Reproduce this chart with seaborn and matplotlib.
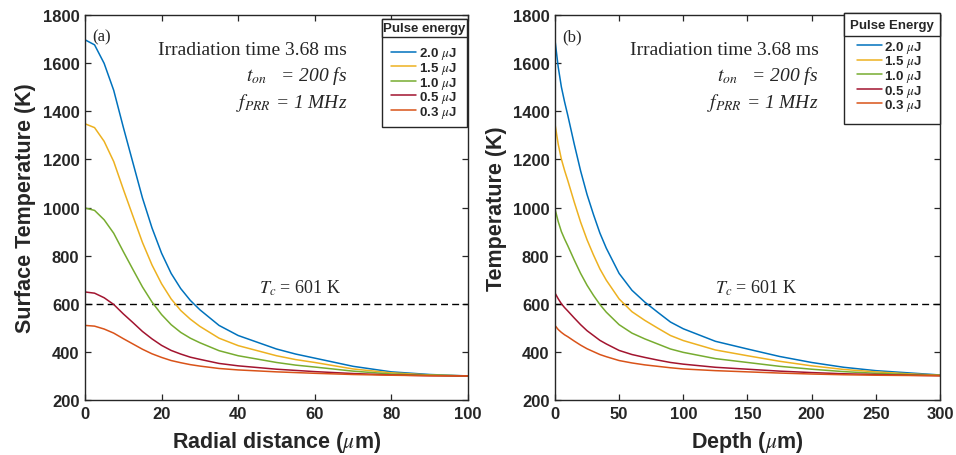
import numpy as np
import pandas as pd
import matplotlib
matplotlib.use("Agg")
import matplotlib.pyplot as plt
from matplotlib.patches import Rectangle
import seaborn as sns

# pulse energies and colours (MATLAB default order)
energy_labels = ["2.0 $\\mu$J", "1.5 $\\mu$J", "1.0 $\\mu$J", "0.5 $\\mu$J", "0.3 $\\mu$J"]
colors = ["#0072BD", "#EDB120", "#77AC30", "#A2142F", "#D95319"]
tc_value = 601

# (a) surface temperature vs radial distance
radial_um = [0, 2.5, 5, 7.5, 10, 12.5, 15, 17.5, 20, 22.5, 25, 27.5, 30,
             35, 40, 45, 50, 55, 60, 70, 80, 90, 100]
surf_2p0 = [1697, 1676, 1599, 1487, 1334, 1187, 1040, 915, 810, 726, 663, 614, 575,
            510, 468, 440, 412, 391, 374, 340, 317, 306, 300]
surf_1p5 = [1348, 1332, 1275, 1191, 1076, 965, 855, 761, 683, 620, 572, 536, 506,
            457, 426, 405, 384, 368, 356, 329, 313, 304, 300]
surf_1p0 = [998, 988, 949, 893, 817, 743, 670, 607, 555, 513, 481, 457, 438,
            405, 384, 370, 356, 345, 337, 320, 308, 303, 300]
surf_0p5 = [649, 644, 625, 597, 558, 522, 485, 454, 427, 406, 391, 378, 369,
            352, 342, 335, 328, 323, 318, 310, 304, 301, 300]
surf_0p3 = [510, 507, 495, 478, 455, 433, 411, 392, 377, 364, 355, 347, 341,
            331, 325, 321, 317, 314, 311, 306, 303, 301, 300]

# (b) temperature vs depth
depth_um = [0, 2.5, 5, 7.5, 10, 15, 20, 25, 30, 35, 40, 50, 60, 70, 80, 90, 100,
            125, 150, 175, 200, 225, 250, 275, 300]
depth_2p0 = [1697, 1585, 1501, 1439, 1383, 1264, 1152, 1054, 971, 894, 831, 726, 656,
             607, 565, 524, 496, 444, 412, 381, 356, 336, 322, 313, 304]
depth_1p5 = [1348, 1264, 1201, 1154, 1112, 1023, 939, 866, 803, 745, 698, 620, 567,
             531, 499, 468, 447, 408, 384, 361, 342, 327, 317, 309, 303]
depth_1p0 = [995, 942, 900, 869, 841, 782, 726, 677, 635, 597, 565, 513, 478,
             454, 433, 412, 398, 372, 356, 340, 328, 318, 311, 306, 302]
depth_0p5 = [645, 621, 600, 584, 570, 541, 513, 488, 468, 448, 433, 406, 389,
             377, 366, 356, 349, 336, 328, 320, 314, 309, 306, 303, 301]
depth_0p3 = [510, 493, 481, 471, 463, 445, 428, 413, 401, 389, 380, 364, 354,
             346, 340, 334, 329, 322, 317, 312, 308, 305, 303, 302, 301]

sns.set_style("ticks")
plt.rcParams["font.family"] = ["Liberation Sans", "DejaVu Sans"]
plt.rcParams["mathtext.fontset"] = "stix"

spine_col = "#262626"
tick_font = {"family": "Liberation Sans", "weight": "bold", "size": 12}
serif = "Liberation Serif"


def draw_panel(ax, x, series, xlabel, ylabel, xlim, xticks, tag, legend_title,
               box, leg_anchor, tc_x, ylab_x):
    rows = []
    for lab, ys in zip(energy_labels, series):
        rows += [(xv, yv, lab) for xv, yv in zip(x, ys)]
    df = pd.DataFrame(rows, columns=["x", "T", "energy"])
    sns.lineplot(data=df, x="x", y="T", hue="energy", hue_order=energy_labels,
                 palette=colors, linewidth=1.1, ax=ax, legend=False)

    ax.axhline(tc_value, color="black", lw=1.0, ls=(0, (5, 3)), zorder=1)

    ax.set_xlim(*xlim)
    ax.set_ylim(200, 1800)
    ax.set_xticks(xticks)
    ax.set_yticks(np.arange(200, 1801, 200))
    ax.tick_params(direction="in", length=4, width=0.9, top=True, right=True,
                   color=spine_col, pad=4)
    for lab in ax.get_xticklabels() + ax.get_yticklabels():
        lab.set_fontproperties(tick_font)
        lab.set_color("#262626")
    for s in ax.spines.values():
        s.set_visible(True)
        s.set_color(spine_col)
        s.set_linewidth(1.0)

    ax.set_xlabel(xlabel, fontsize=15.5, fontweight="bold", color="#262626")
    ax.set_ylabel(ylabel, fontsize=15.5, fontweight="bold", color="#262626")
    ax.xaxis.set_label_coords(0.5, -0.075)
    ax.yaxis.set_label_coords(ylab_x, 0.5)

    # annotations
    ax.text(0.02, 0.965, tag, transform=ax.transAxes, family=serif, fontsize=12,
            va="top", ha="left")
    ax.text(0.685, 0.91, "Irradiation time 3.68 ms", transform=ax.transAxes,
            family=serif, fontsize=14, ha="right", va="center")
    ax.text(0.685, 0.845, r"$t_{on}$   = 200 fs", transform=ax.transAxes,
            family=serif, style="italic", fontsize=14, ha="right", va="center")
    ax.text(0.685, 0.775, r"$f_{PRR}$ = 1 MHz", transform=ax.transAxes,
            family=serif, style="italic", fontsize=14, ha="right", va="center")
    ax.text(tc_x, tc_value + 25, r"$T_c$ = 601 K", family=serif, fontsize=13,
            ha="center", va="bottom")

    # MATLAB-style legend with separate title cell
    x0, x1, ybot, ysep, ytop = box
    ax.add_patch(Rectangle((x0, ybot), x1 - x0, ytop - ybot, transform=ax.transAxes,
                           facecolor="white", edgecolor=spine_col, lw=1.0,
                           clip_on=False, zorder=4))
    ax.add_patch(Rectangle((x0, ysep), x1 - x0, ytop - ysep, transform=ax.transAxes,
                           facecolor="white", edgecolor=spine_col, lw=1.0,
                           clip_on=False, zorder=4))
    ax.text((x0 + x1) / 2, (ysep + ytop) / 2, legend_title, transform=ax.transAxes,
            fontsize=9.5, fontweight="bold", ha="center", va="center", zorder=6)
    handles = ax.get_lines()[:len(energy_labels)]
    leg = ax.legend(handles, energy_labels, loc="upper left", bbox_to_anchor=leg_anchor,
                    frameon=False, prop={"weight": "bold", "size": 9.5},
                    handlelength=1.9, handletextpad=0.2, labelspacing=-0.11,
                    borderpad=0, borderaxespad=0)
    leg.set_zorder(7)


fig = plt.figure(figsize=(9.56, 4.56), dpi=100)
ax_a = fig.add_axes([0.0889, 0.1206, 0.4006, 0.8443])
ax_b = fig.add_axes([0.5805, 0.1206, 0.4027, 0.8443])

draw_panel(ax_a, radial_um, [surf_2p0, surf_1p5, surf_1p0, surf_0p5, surf_0p3],
           "Radial distance ($\\mu$m)", "Surface Temperature (K)",
           (0, 100), np.arange(0, 101, 20), "(a)", "Pulse energy",
           (0.775, 0.997, 0.709, 0.943, 0.9896), (0.80, 0.921), 56, -0.127)
draw_panel(ax_b, depth_um, [depth_2p0, depth_1p5, depth_1p0, depth_0p5, depth_0p3],
           "Depth ($\\mu$m)", "Temperature (K)",
           (0, 300), np.arange(0, 301, 50), "(b)", "Pulse Energy",
           (0.751, 1.0, 0.717, 0.945, 1.005), (0.784, 0.938), 157, -0.124)

fig.savefig("out.png", dpi=100)
